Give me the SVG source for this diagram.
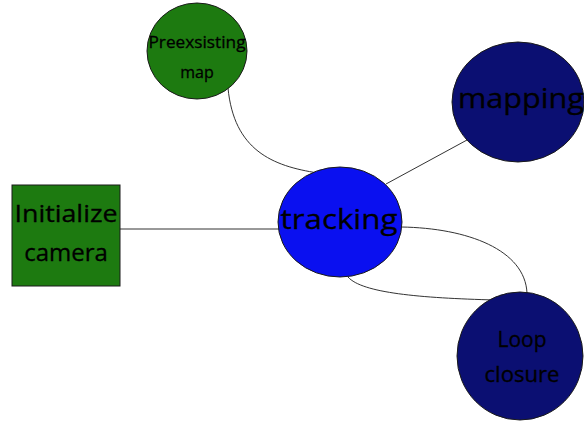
<svg xmlns="http://www.w3.org/2000/svg" width="584" height="421" viewBox="0 0 584 421">
<style>
.n{stroke:#1a1a1a;stroke-width:1}
.g{fill:#1d7a10}
.b{fill:#0a10f0}
.d{fill:#0b0f72}
.c{fill:none;stroke:#333;stroke-width:1}
text{font-family:"Open Sans","Noto Sans",sans-serif;fill:#000;text-anchor:middle;stroke:#000;stroke-width:0.3}
</style>
<rect width="584" height="421" fill="#fff"/>
<g id="connectors">
<path class="c" d="M228,88 C234,150 272,166 318,173"/>
<path class="c" d="M467,140 L386,184"/>
<path class="c" d="M120,229 L279,229"/>
<path class="c" d="M401,227 C468,228 525,250 527,293"/>
<path class="c" d="M348,277 C362,293 420,298 495,300"/>
</g>
<g id="preexisting">
<ellipse class="n g" cx="197" cy="51" rx="50" ry="48"/>
<text x="197" y="48" font-size="16" textLength="97" lengthAdjust="spacingAndGlyphs">Preexsisting</text>
<text x="197" y="78" font-size="16">map</text>
</g>
<g id="mapping">
<ellipse class="n d" cx="518" cy="102" rx="66" ry="60"/>
<text x="521" y="108" font-size="28" textLength="126" lengthAdjust="spacingAndGlyphs">mapping</text>
</g>
<g id="initialize">
<rect class="n g" x="12" y="185" width="108" height="101"/>
<text x="66" y="222" font-size="24" textLength="103" lengthAdjust="spacingAndGlyphs">Initialize</text>
<text x="66" y="261" font-size="24">camera</text>
</g>
<g id="tracking">
<ellipse class="n b" cx="340" cy="222" rx="62" ry="55"/>
<text x="339" y="229" font-size="28" textLength="117" lengthAdjust="spacingAndGlyphs">tracking</text>
</g>
<g id="loop">
<ellipse class="n d" cx="520" cy="356" rx="63" ry="64"/>
<text x="522" y="347" font-size="21">Loop</text>
<text x="522" y="382" font-size="21" textLength="75" lengthAdjust="spacingAndGlyphs">closure</text>
</g>
</svg>
